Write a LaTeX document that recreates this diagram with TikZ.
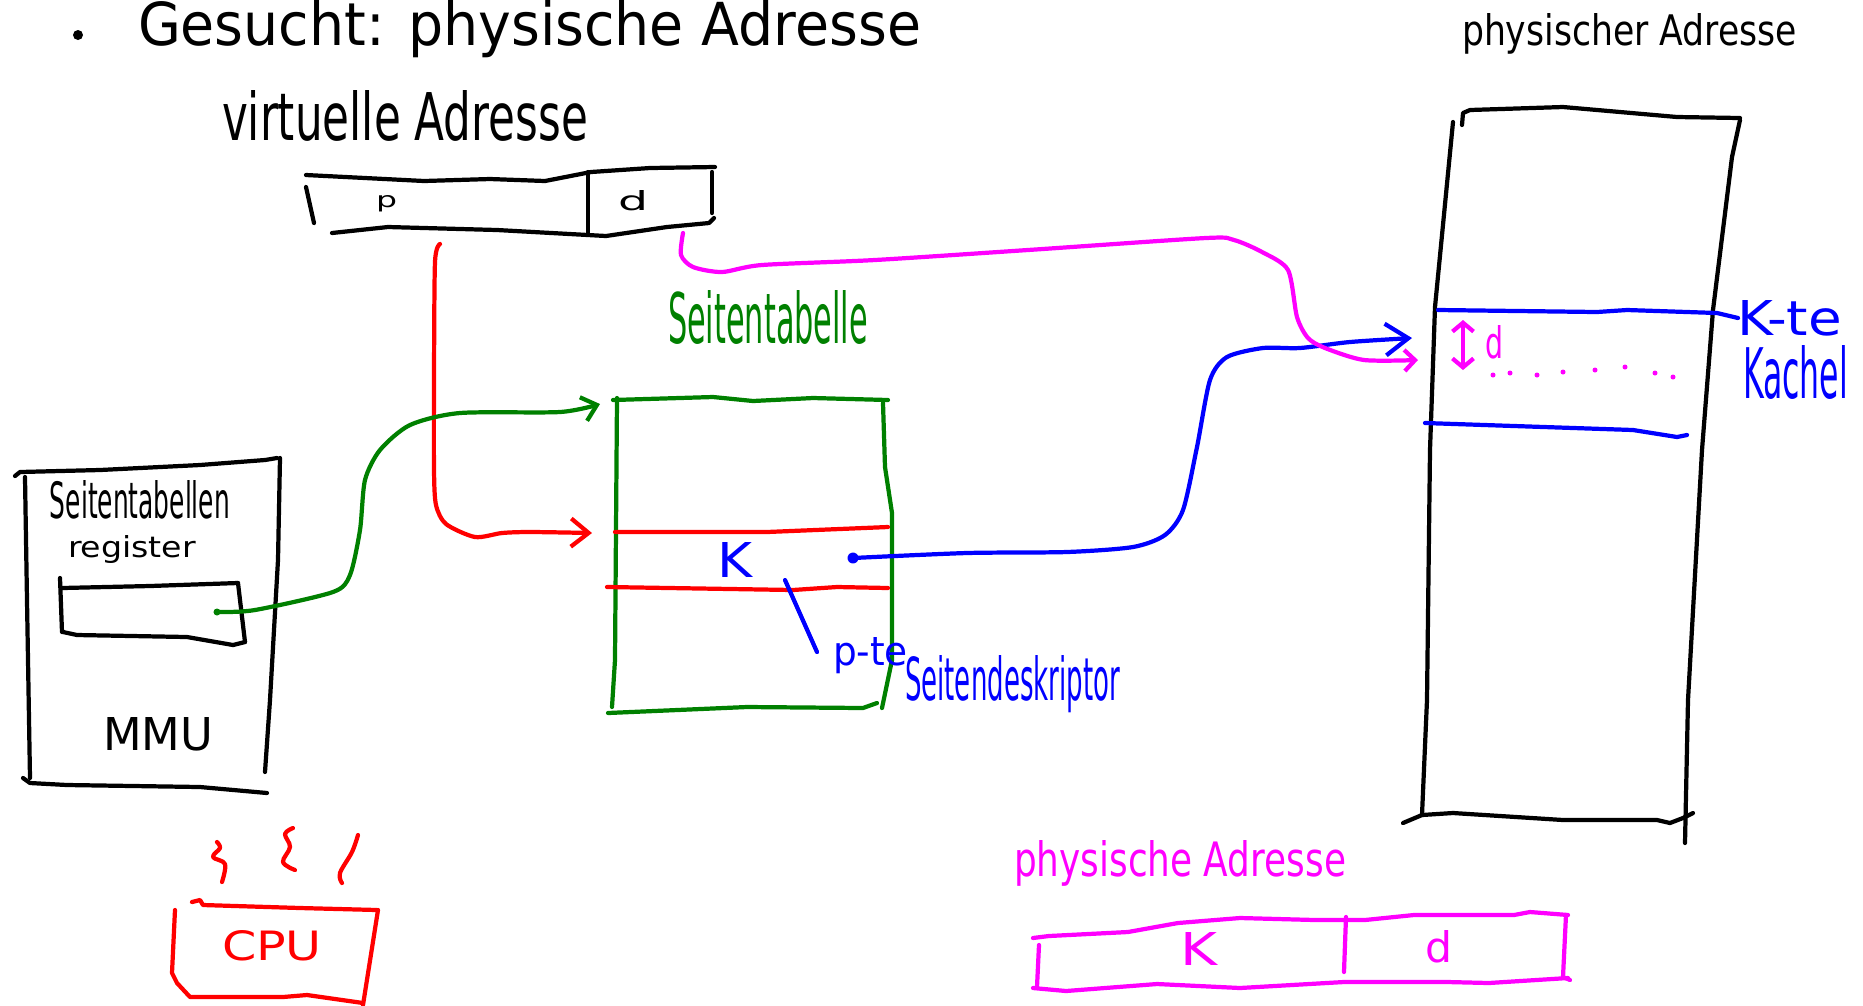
\documentclass[tikz,border=0pt]{standalone}
\usepackage{fontspec}
\setmainfont{DejaVu Sans}
\usepackage{graphicx}
\usetikzlibrary{arrows.meta}
\newlength\pxl
\setlength\pxl{0.01cm}
\newcommand\hwtext[3]{\resizebox{#1\pxl}{#2\pxl}{#3}}
\definecolor{hgreen}{RGB}{0,128,0}
\definecolor{hred}{RGB}{255,0,0}
\definecolor{hblue}{RGB}{0,0,255}
\definecolor{hmag}{RGB}{255,0,255}
\begin{document}
\begin{tikzpicture}[x=0.01cm,y=-0.01cm,line cap=round,line join=round,
  pen/.style={line width=1.2pt},
  lbl/.style={inner sep=0pt,outer sep=0pt,anchor=base west},
  dotmark/.style={circle,fill,inner sep=0pt,minimum size=0.07cm},
  ringmark/.style={circle,draw,line width=1.2pt,inner sep=0pt,minimum size=0.07cm},
  barb/.style={-{Straight Barb[length=5pt,width=8pt]}},
  smallbarb/.style={-{Straight Barb[length=3pt,width=6pt]}},
  bigbarb/.style={-{Straight Barb[length=6.5pt,width=9pt]}}]
\useasboundingbox (0,0) rectangle (1863,1005);

% title
\node[circle,fill,inner sep=0pt,minimum size=0.1cm] (bullet) at (78,35) {};
\node[lbl] (title) at (138,45) {\hwtext{783}{45}{Gesucht: physische Adresse}};

% virtual address
\node[lbl] (vaLabel) at (222,140) {\hwtext{366}{50}{virtuelle Adresse}};
\draw[pen] (306,175) -- (365,178) -- (424,181) -- (490,179) -- (545,181) -- (591,172) -- (650,168) -- (715,167);
\draw[pen] (306,187) -- (314,223);
\draw[pen] (332,233) -- (388,227) -- (497,230) -- (606,236) -- (667,227) -- (709,223) -- (714,218);
\draw[pen] (588,172) -- (588,233);
\draw[pen] (712,172) -- (712,213);
\node[lbl] (vaP) at (376,207) {\hwtext{21}{12}{p}};
\node[lbl] (vaD) at (618,210) {\hwtext{30}{20}{d}};
\coordinate (vaPout) at (440,244);
\coordinate (vaDout) at (683,233);

% MMU
\draw[pen] (15,476) -- (20,472) -- (100,470) -- (200,465) -- (265,460) -- (277,458);
\draw[pen] (25,477) -- (27,600) -- (30,778);
\draw[pen] (280,458) -- (278,560) -- (270,700) -- (265,772);
\draw[pen] (23,778) -- (30,783) -- (67,785) -- (200,787) -- (267,793);
\draw[pen] (62,588) -- (150,586) -- (238,583);
\draw[pen] (60,578) -- (62,632);
\draw[pen] (238,583) -- (245,642);
\draw[pen] (63,632) -- (77,635) -- (187,637) -- (233,645) -- (245,642);
\node[lbl] (regLabel1) at (50,518) {\hwtext{180}{38}{Seitentabellen}};
\node[lbl] (regLabel2) at (68,557) {\hwtext{128}{22}{register}};
\node[lbl] (mmu) at (103,750) {\hwtext{110}{33}{MMU}};
\node[dotmark,hgreen] (regDot) at (217,612) {};

% CPU
\begin{scope}[hred]
\draw[pen] (192,902) -- (200,900) -- (203,905) -- (300,908) -- (377,910);
\draw[pen] (175,910) -- (172,973) -- (177,983) -- (190,997) -- (283,997) -- (307,995) -- (363,1003);
\draw[pen] (378,910) -- (363,1005);
\node[lbl] (cpu) at (222,960) {\hwtext{100}{30}{CPU}};
\draw[pen] plot[smooth,tension=0.6] coordinates {(217,842) (220,848) (213,857) (225,864) (222,882)};
\draw[pen] plot[smooth,tension=0.6] coordinates {(293,828) (285,834) (290,847) (283,862) (295,870)};
\draw[pen] plot[smooth,tension=0.6] coordinates {(358,835) (352,852) (340,873) (342,883)};
\end{scope}

% page table
\begin{scope}[hgreen]
\node[lbl] (ptLabel) at (668,343) {\hwtext{200}{53}{Seitentabelle}};
\draw[pen] (613,400) -- (713,397) -- (753,401) -- (813,398) -- (888,400);
\draw[pen] (617,398) -- (615,660) -- (612,707);
\draw[pen] (608,713) -- (747,707) -- (863,708) -- (877,703);
\draw[pen] (883,403) -- (885,467) -- (892,513) -- (892,660) -- (882,708);
\end{scope}
\draw[pen,hred] (615,532) -- (767,532) -- (888,527);
\draw[pen,hred] (607,587) -- (793,590) -- (837,587) -- (888,588);
\coordinate (ptTop) at (600,404);
\coordinate (ptRow) at (592,533);
\node[lbl,hblue] (kLabel) at (717,577) {\hwtext{35}{35}{K}};
\node[ringmark,hblue] (kDot) at (853,558) {};
\node[lbl,hblue] (pteLabel) at (833,665) {\hwtext{75}{28}{p-te}};
\node[lbl,hblue] (sdLabel) at (905,700) {\hwtext{215}{45}{Seitendeskriptor}};
\coordinate (pteEnd) at (817,652);
\coordinate (pteRow) at (785,580);
\draw[pen,hblue] (pteEnd) -- (pteRow);

% physical memory
\node[lbl] (pmLabel) at (1462,45) {\hwtext{335}{32}{physischer Adresse}};
\draw[pen] (1462,125) -- (1463,113) -- (1470,110) -- (1563,107) -- (1677,117) -- (1740,118);
\draw[pen] (1453,122) -- (1435,307) -- (1430,450) -- (1427,700) -- (1422,815);
\draw[pen] (1740,120) -- (1732,157) -- (1713,310) -- (1702,450) -- (1688,700) -- (1685,843);
\draw[pen] (1403,823) -- (1422,815) -- (1453,813) -- (1563,820) -- (1657,820) -- (1670,823) -- (1683,818) -- (1693,813);
\draw[pen,hblue] (1438,310) -- (1597,312) -- (1627,310) -- (1717,313) -- (1738,318);
\draw[pen,hblue] (1425,423) -- (1633,430) -- (1677,437) -- (1687,435);
\node[lbl,hblue] (kteLabel) at (1737,335) {\hwtext{105}{35}{K-te}};
\node[lbl,hblue] (kachelLabel) at (1743,398) {\hwtext{105}{53}{Kachel}};
\coordinate (dTop) at (1463,320);
\coordinate (dBot) at (1463,370);
\draw[pen,hmag,{Straight Barb[length=2.5pt,width=6pt]}-{Straight Barb[length=2.5pt,width=6pt]}] (dTop) -- (dBot);
\node[lbl,hmag] (dLabel) at (1485,358) {\hwtext{18}{33}{d}};
\foreach \dx/\dy [count=\i] in {1493/375,1510/373,1537/375,1563/372,1595/370,1625/367,1655/373,1673/377}
  \node[circle,fill,hmag,inner sep=0pt,minimum size=0.05cm] (dot\i) at (\dx,\dy) {};
\coordinate (memK) at (1412,338);
\coordinate (memD) at (1418,360);

% physical address
\begin{scope}[hmag]
\node[lbl] (paLabel) at (1014,876) {\hwtext{332}{36}{physische Adresse}};
\draw[pen] (1033,938) -- (1049,936) -- (1128,932) -- (1178,923) -- (1240,918) -- (1315,920) -- (1365,920) -- (1414,915) -- (1514,915) -- (1530,912) -- (1568,915);
\draw[pen] (1039,945) -- (1037,987);
\draw[pen] (1033,988) -- (1066,991) -- (1157,984) -- (1240,988) -- (1344,982) -- (1447,982) -- (1489,983) -- (1568,978);
\draw[pen] (1566,915) -- (1563,977) -- (1570,980);
\draw[pen] (1346,917) -- (1344,972);
\node[lbl] (paK) at (1180,965) {\hwtext{37}{33}{K}};
\node[lbl] (paD) at (1425,962) {\hwtext{27}{32}{d}};
\end{scope}

% connectors
\draw[pen,hred,barb] plot[smooth,tension=0.45] coordinates {(vaPout) (435,262) (434,380) (434,470) (436,505) (446,524) (475,537) (502,533) (530,532) (ptRow)};
\draw[pen,hgreen,-{Straight Barb[length=4pt,width=7pt]}] plot[smooth,tension=0.45] coordinates {(regDot) (255,610) (333,592) (350,575) (360,530) (365,480) (380,450) (410,425) (460,413) (560,412) (ptTop)};
\draw[pen,hblue,bigbarb] plot[smooth,tension=0.45] coordinates {(kDot) (967,553) (1067,552) (1133,547) (1165,535) (1183,510) (1197,447) (1210,380) (1227,357) (1263,348) (1300,348) (1350,342) (memK)};
\draw[pen,hmag,smallbarb] plot[smooth,tension=0.45] coordinates {(vaDout) (681,255) (693,267) (722,272) (762,265) (875,260) (1028,250) (1206,238) (1234,240) (1262,252) (1288,270) (1297,317) (1308,338) (1325,348) (1364,360) (memD)};
\end{tikzpicture}
\end{document}
